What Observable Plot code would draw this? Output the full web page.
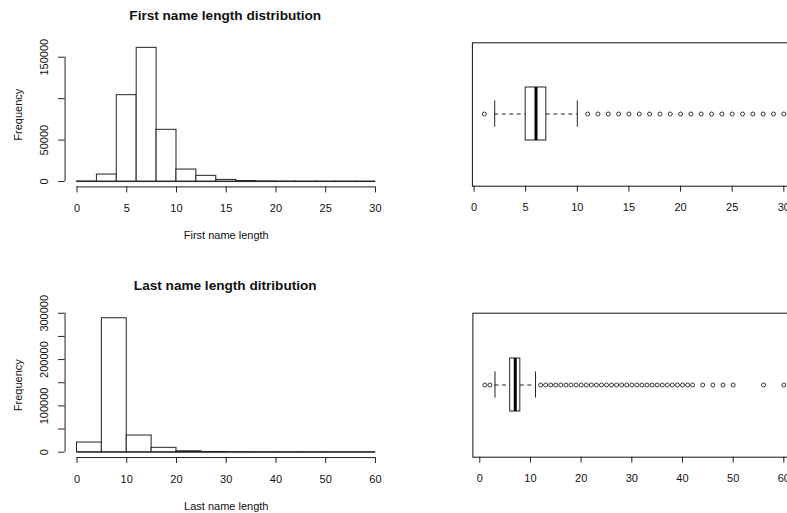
<!DOCTYPE html>
<html><head><meta charset="utf-8">
<script src="https://cdn.jsdelivr.net/npm/d3@7"></script>
<script src="https://cdn.jsdelivr.net/npm/@observablehq/plot@0.6"></script>
<style>
html,body{margin:0;padding:0;background:#fff;overflow:hidden;width:787px;height:513px}
#wrap{position:relative;width:787px;height:513px;overflow:hidden;background:#fff}
#wrap svg{position:absolute}
</style></head><body><div id="wrap"></div>
<script>
// ---------- data ----------
const firstBreaks = [0,2,4,6,8,10,12,14,16,18,20,22,24,26,28,30];
const firstCounts = [150,8450,104200,161300,62400,14500,6900,2000,600,250,120,60,30,15,8];
const firstXTicks = [0,5,10,15,20,25,30];
const firstYTicks = [0,50000,100000,150000];
const firstYLabels = ["0","50000","","150000"];

const lastBreaks = [0,5,10,15,20,25,30,35,40,45,50,55,60];
const lastCounts = [20900,289200,36000,9500,2000,500,150,60,20,8,4,2];
const lastXTicks = [0,10,20,30,40,50,60];
const lastYTicks = [0,50000,100000,150000,200000,250000,300000];
const lastYLabels = ["0","","100000","","200000","","300000"];

const firstStats = {lo: 2, q1: 5, med: 6, q3: 7, hi: 10};
const firstOutliers = [1,11,12,13,14,15,16,17,18,19,20,21,22,23,24,25,26,27,28,29,30];
const firstBoxTicks = [0,5,10,15,20,25,30];

const lastStats = {lo: 3, q1: 6, med: 7, q3: 8, hi: 11};
const lastOutliers = [1,2,12,13,14,15,16,17,18,19,20,21,22,23,24,25,26,27,28,29,30,31,32,33,34,35,36,37,38,39,40,41,42,44,46,48,50,56,60];
const lastBoxTicks = [0,10,20,30,40,50,60];

const titles = ["First name length distribution", "Last name length ditribution"];
const xLabels = ["First name length", "Last name length"];
const yLabel = "Frequency";

// ---------- helpers ----------
const ext = ([a, b]) => [a - 0.04 * (b - a), b + 0.04 * (b - a)];
const style = {fontFamily: "'Liberation Sans', Arial, sans-serif", fontSize: "11px", color: "#111", background: "transparent"};
const wrap = document.getElementById("wrap");

function hist({breaks, counts, xTicks, yTicks, yLabels, title, xlabel, left, top, height, marginTop, marginBottom}) {
  const rows = counts.map((c, i) => ({x1: breaks[i], x2: breaks[i + 1], y: c}));
  const xd = ext([breaks[0], breaks[breaks.length - 1]]);
  const yd = ext([0, d3.max(counts)]);
  const svg = Plot.plot({
    width: 400, height,
    marginLeft: 64.56, marginRight: 13.1, marginTop, marginBottom,
    x: {domain: xd, axis: null, label: null},
    y: {domain: yd, axis: null, label: null},
    style,
    marks: [
      Plot.ruleY([0], {x1: breaks[0], x2: breaks[breaks.length - 1], stroke: "#222"}),
      Plot.rectY(rows, {x1: "x1", x2: "x2", y1: 0, y2: "y", fill: "white", stroke: "#222", strokeWidth: 1}),
      Plot.ruleY([yd[0]], {x1: xTicks[0], x2: xTicks[xTicks.length - 1], stroke: "#222"}),
      Plot.axisX(xTicks, {tickSize: 6, tickPadding: 11.5, fontSize: 11, label: null, stroke: "#222"}),
      Plot.ruleX([xd[0]], {y1: yTicks[0], y2: yTicks[yTicks.length - 1], stroke: "#222"}),
      Plot.axisY(yTicks, {tickSize: 6.5, tickFormat: () => "", label: null, stroke: "#222"}),
      Plot.text(yTicks, {y: d => d, text: (d, i) => yLabels[i], frameAnchor: "left", dx: -21, rotate: -90, textAnchor: "middle", lineAnchor: "middle", fontSize: 11}),
      Plot.text([yLabel], {text: d => d, frameAnchor: "left", dx: -46.3, rotate: -90, textAnchor: "middle", lineAnchor: "middle", fontSize: 11}),
      Plot.text([xlabel], {text: d => d, frameAnchor: "bottom", dy: 48.7, textAnchor: "middle", lineAnchor: "middle", fontSize: 11}),
      Plot.text([title], {text: d => d, frameAnchor: "top", dx: -1, dy: -27, textAnchor: "middle", lineAnchor: "middle", fontSize: 13.6, fontWeight: "bold"})
    ]
  });
  svg.style.left = left + "px";
  svg.style.top = top + "px";
  wrap.appendChild(svg);
}

function box({stats, outliers, ticks, left, top, height, marginLeft, marginTop, marginBottom}) {
  const row = {g: "g", ...stats};
  const all = [stats.lo, stats.hi, ...outliers];
  const xd = ext([d3.min(all), d3.max(all)]);
  const svg = Plot.plot({
    width: 400, height,
    marginLeft, marginRight: 4.7, marginTop, marginBottom,
    x: {domain: xd, axis: null, label: null},
    y: {domain: ["g"], padding: 0.4556, axis: null, label: null},
    style,
    marks: [
      Plot.frame({stroke: "#111"}),
      Plot.ruleY([row], {y: "g", x1: "lo", x2: "q1", stroke: "#222", strokeDasharray: "4,3.5"}),
      Plot.ruleY([row], {y: "g", x1: "q3", x2: "hi", stroke: "#222", strokeDasharray: "4,3.5"}),
      Plot.tickX([row], {y: "g", x: "lo", insetTop: 13.4, insetBottom: 13.4, stroke: "#222"}),
      Plot.tickX([row], {y: "g", x: "hi", insetTop: 13.4, insetBottom: 13.4, stroke: "#222"}),
      Plot.barX([row], {y: "g", x1: "q1", x2: "q3", fill: "white", stroke: "#222"}),
      Plot.tickX([row], {y: "g", x: "med", stroke: "#000", strokeWidth: 3}),
      Plot.dot(outliers, {x: d => d, y: () => "g", r: 2, stroke: "#222", fill: "none", strokeWidth: 0.9}),
      Plot.axisX(ticks, {tickSize: 6, tickPadding: 11.4, fontSize: 11, label: null, stroke: "#222"})
    ]
  });
  svg.style.left = left + "px";
  svg.style.top = top + "px";
  wrap.appendChild(svg);
}

hist({breaks: firstBreaks, counts: firstCounts, xTicks: firstXTicks, yTicks: firstYTicks, yLabels: firstYLabels,
      title: titles[0], xlabel: xLabels[0], left: 0, top: 0, height: 256, marginTop: 42, marginBottom: 69.6});
hist({breaks: lastBreaks, counts: lastCounts, xTicks: lastXTicks, yTicks: lastYTicks, yLabels: lastYLabels,
      title: titles[1], xlabel: xLabels[1], left: 0, top: 256, height: 257, marginTop: 56.4, marginBottom: 55.94});
box({stats: firstStats, outliers: firstOutliers, ticks: firstBoxTicks, left: 400, top: 0, height: 256,
     marginLeft: 71.9, marginTop: 42.3, marginBottom: 70.3});
box({stats: lastStats, outliers: lastOutliers, ticks: lastBoxTicks, left: 400, top: 256, height: 257,
     marginLeft: 72.4, marginTop: 56.7, marginBottom: 56.3});
</script>
</body></html>
